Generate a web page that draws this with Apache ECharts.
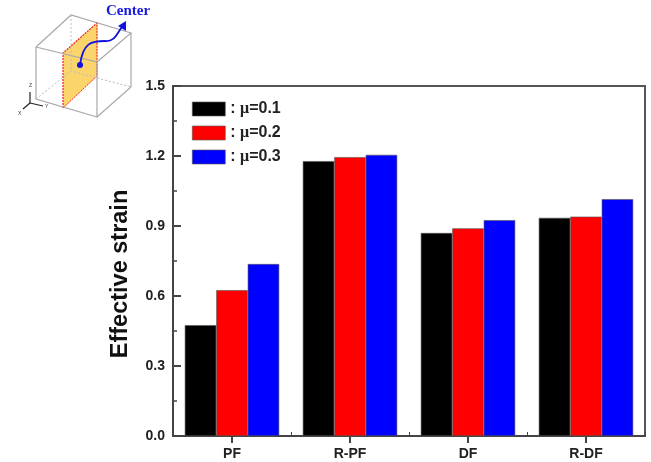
<!DOCTYPE html>
<html><head><meta charset="utf-8"><style>html,body{margin:0;background:#fff}#c{width:651px;height:462px}</style>
<script src="https://cdn.jsdelivr.net/npm/echarts@6/dist/echarts.min.js"></script></head>
<body><div id="c"></div><script>
const categories = ['PF','R-PF','DF','R-DF'];
const mu01 = [0.475,1.178,0.87,0.935];
const mu02 = [0.625,1.195,0.89,0.94];
const mu03 = [0.737,1.205,0.925,1.015];
const seriesNames = [': μ=0.1',': μ=0.2',': μ=0.3'];
const colors = ['#000000','#ff0000','#0000ff'];
const yTicks = {min:0,max:1.5,interval:0.3};
const innerYTicks = [0.3,0.6,0.9,1.2];
const axisC = '#444';
const font = 'Liberation Sans, Arial, sans-serif';
const gridBox = {left:173,top:86,width:472,height:350};
const mk = (name,data,color)=>({name,type:'bar',data,barGap:0,barCategoryGap:'20%',
  itemStyle:{color,borderColor:'#555',borderWidth:0.6}});
const chart = echarts.init(document.getElementById('c'));
const L = (o)=>Object.assign({silent:true},o);
const blue = '#1010e0', cube='#a8a8a8', dash='#bbb', red='#ee2222';
chart.setOption({
  animation:false,
  backgroundColor:'#fff',
  grid:Object.assign({show:true,borderColor:'#555',borderWidth:2,backgroundColor:'transparent'},gridBox),
  legend:{left:187,top:96,orient:'vertical',icon:'rect',itemWidth:33,itemHeight:14,itemGap:8,selectedMode:false,
    data:seriesNames,
    formatter:n=>n.replace('μ','{m|μ}'),
    textStyle:{fontFamily:font,fontSize:16,fontWeight:'bold',color:'#222',
      rich:{m:{fontFamily:'Liberation Serif, serif',fontSize:16,fontWeight:'bold',color:'#222'}}},
    itemStyle:{borderColor:'#555',borderWidth:0.6}},
  xAxis:[
   {type:'category',data:categories,position:'bottom',
    axisLine:{show:true,lineStyle:{color:axisC,width:2}},
    axisTick:{show:true,alignWithLabel:true,inside:false,length:7,lineStyle:{color:axisC,width:2}},
    axisLabel:{fontFamily:font,fontSize:14,fontWeight:'bold',color:'#222',margin:11}},
   {type:'category',data:categories,position:'bottom',
    axisLine:{show:false},
    axisTick:{show:true,inside:true,length:4,lineStyle:{color:axisC,width:1}},
    axisLabel:{show:false}}
  ],
  yAxis:[{type:'value',min:yTicks.min,max:yTicks.max,interval:yTicks.interval,
    name:'Effective strain',nameLocation:'middle',nameGap:40,
    nameTextStyle:{fontFamily:font,fontSize:23.5,fontWeight:'bold',color:'#111',padding:[0,26,0,0]},
    axisLine:{show:true,lineStyle:{color:axisC,width:2}},
    axisTick:{show:true,inside:true,length:8,lineStyle:{color:axisC,width:2}},
    minorTick:{show:true,splitNumber:2,length:4,lineStyle:{color:axisC,width:1.5}},
    splitLine:{show:false},
    axisLabel:{show:true,fontFamily:font,fontSize:14,fontWeight:'bold',color:'#222',margin:8,
      formatter:v=>v.toFixed(1)}}],
  series:[mk(seriesNames[0],mu01,colors[0]),mk(seriesNames[1],mu02,colors[1]),mk(seriesNames[2],mu03,colors[2])]
});
const bottomY = gridBox.top + gridBox.height;
const yTickEls = innerYTicks.map(v=>{
  const y = Math.round(chart.convertToPixel({yAxisIndex:0},v));
  return L({type:'rect',z:100,shape:{x:gridBox.left,y:y-1,width:8,height:2},style:{fill:axisC}});
});
const xTickEls = categories.map((c,i)=>{
  const x = Math.round(chart.convertToPixel({xAxisIndex:0},i));
  return L({type:'rect',z:100,shape:{x:x-1,y:bottomY,width:2,height:7},style:{fill:axisC}});
});
chart.setOption({graphic:[
   L({type:'polygon',shape:{points:[[63,53],[97,23],[97,76],[63,108]]},style:{fill:'#fbd46b',stroke:null}}),
   L({type:'polyline',shape:{points:[[63,108],[63,53],[97,23],[97,76]]},style:{fill:'none',stroke:red,lineWidth:1.2,lineDash:[2,1]}}),
   L({type:'line',shape:{x1:63,y1:108,x2:97,y2:76},style:{stroke:red,lineWidth:1,lineDash:[2,1]}}),
   L({type:'polyline',shape:{points:[[36,47],[36,99],[97,117],[97,62],[36,47]]},style:{fill:'none',stroke:cube,lineWidth:1.2}}),
   L({type:'polyline',shape:{points:[[36,47],[71,15],[131,33],[97,62]]},style:{fill:'none',stroke:cube,lineWidth:1.2}}),
   L({type:'polyline',shape:{points:[[131,33],[131,87],[97,117]]},style:{fill:'none',stroke:cube,lineWidth:1.2}}),
   L({type:'polyline',shape:{points:[[36,99],[71,71],[131,87]]},style:{fill:'none',stroke:dash,lineWidth:1,lineDash:[2,2]}}),
   L({type:'line',shape:{x1:71,y1:15,x2:71,y2:71},style:{stroke:dash,lineWidth:1,lineDash:[2,2]}}),
   L({type:'bezierCurve',shape:{x1:80,y1:65,cpx1:83,cpy1:42,cpx2:92,cpy2:41,x2:105,y2:41},style:{fill:'none',stroke:blue,lineWidth:1.8}}),
   L({type:'bezierCurve',shape:{x1:105,y1:41,cpx1:115,cpy1:42,cpx2:117,cpy2:33,x2:122,y2:27},style:{fill:'none',stroke:blue,lineWidth:1.8}}),
   L({type:'polygon',shape:{points:[[126,21],[126,31],[118,26]]},style:{fill:blue}}),
   L({type:'circle',shape:{cx:80,cy:65,r:3},style:{fill:blue}}),
   L({type:'text',style:{x:106,y:4,text:'Center',fill:'#1a1ae0',fontFamily:'Liberation Serif, serif',fontWeight:'bold',fontSize:15}}),
   L({type:'line',shape:{x1:30,y1:103,x2:30,y2:92},style:{stroke:'#222',lineWidth:1.2}}),
   L({type:'line',shape:{x1:30,y1:103,x2:43,y2:106},style:{stroke:'#222',lineWidth:1.2}}),
   L({type:'line',shape:{x1:30,y1:103,x2:23,y2:109},style:{stroke:'#222',lineWidth:1.2}}),
   L({type:'text',style:{x:29,y:83,text:'Z',fill:'#333',fontFamily:font,fontSize:5}}),
   L({type:'text',style:{x:45,y:104,text:'Y',fill:'#333',fontFamily:font,fontSize:5}}),
   L({type:'text',style:{x:18,y:111,text:'X',fill:'#333',fontFamily:font,fontSize:5}}),
   ...yTickEls,...xTickEls
]});
</script></body></html>
